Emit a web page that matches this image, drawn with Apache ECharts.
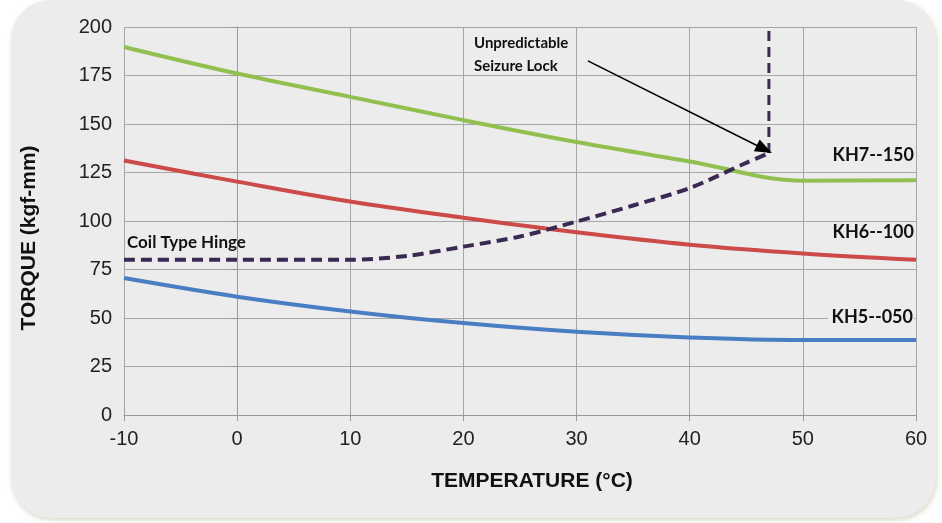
<!DOCTYPE html>
<html>
<head>
<meta charset="utf-8">
<script src="https://cdn.jsdelivr.net/npm/echarts@6/dist/echarts.min.js"></script>
<style>
html,body{margin:0;padding:0;background:#fff;}
#chart{width:942px;height:523px;}
</style>
</head>
<body>
<div id="chart"></div>
<script>
// ---- data ----
const temps = [-10, 0, 10, 20, 30, 40, 50, 60];
const kh7 = [189.7, 176, 164, 152, 140.7, 130.7, 120.8, 121];
const kh6 = [131.2, 120.3, 110, 101.7, 94.2, 87.8, 83.3, 80];
const kh5 = [70.6, 61, 53.4, 47.4, 42.9, 40, 38.7, 38.7];
const coilT = [-10, 0, 10, 15, 20, 25, 30, 35, 40, 45, 47];
const coilV = [80, 80, 80, 82, 86.8, 92, 99.7, 108, 117, 130, 135];
const lockT = [47, 47];
const lockV = [135, 200];
const arrowFrom = [31, 182.5];
const arrowTo = [46.6, 137];
const xTicks = { min: -10, max: 60, interval: 10 };
const yTicks = { min: 0, max: 200, interval: 25 };

const pair = (xs, ys) => xs.map((x, i) => [x, ys[i]]);

const chart = echarts.init(document.getElementById('chart'));
const tickFont = { fontFamily: 'Liberation Sans', fontSize: 20, color: '#222' };
const noteFont = 'Lato';

chart.setOption({
  backgroundColor: '#ffffff',
  animation: false,
  grid: { left: 124, right: 26, top: 27, bottom: 108, containLabel: false },
  xAxis: {
    type: 'value', min: xTicks.min, max: xTicks.max, interval: xTicks.interval,
    axisLine: { show: true, onZero: false, lineStyle: { color: '#999', width: 1 } },
    axisTick: { show: true, length: 6, lineStyle: { color: '#999' } },
    splitLine: { show: true, lineStyle: { color: '#a6a6a6', width: 1 } },
    axisLabel: Object.assign({ margin: 14 }, tickFont)
  },
  yAxis: {
    type: 'value', min: yTicks.min, max: yTicks.max, interval: yTicks.interval,
    axisLine: { show: true, lineStyle: { color: '#999', width: 1 } },
    axisTick: { show: true, length: 7, lineStyle: { color: '#999' } },
    splitLine: { show: true, lineStyle: { color: '#a6a6a6', width: 1 } },
    axisLabel: Object.assign({ margin: 12 }, tickFont)
  },
  graphic: [
    { type: 'rect', z: -10, silent: true,
      shape: { x: 11, y: 0, width: 925, height: 518, r: 40 },
      style: { fill: '#ececec', shadowBlur: 5, shadowOffsetY: 2, shadowOffsetX: 1, shadowColor: 'rgba(150,140,100,0.35)' } },
    { type: 'text', x: 29, y: 238, rotation: Math.PI / 2, z: 10,
      style: { text: 'TORQUE (kgf-mm)', font: 'bold 21px "Liberation Sans"', fill: '#111', align: 'center', verticalAlign: 'middle' } },
    { type: 'text', x: 532, y: 481, z: 10,
      style: { text: 'TEMPERATURE (°C)', font: 'bold 21px "Liberation Sans"', fill: '#111', align: 'center', verticalAlign: 'middle' } },
    { type: 'text', x: 127, y: 243, z: 10,
      style: { text: 'Coil Type Hinge', font: 'bold 17px ' + noteFont, fill: '#111', align: 'left', verticalAlign: 'middle' } },
    { type: 'text', x: 474, y: 43, z: 10,
      style: { text: 'Unpredictable', font: 'bold 15px ' + noteFont, fill: '#111', align: 'left', verticalAlign: 'middle' } },
    { type: 'text', x: 474, y: 66, z: 10,
      style: { text: 'Seizure Lock', font: 'bold 15px ' + noteFont, fill: '#111', align: 'left', verticalAlign: 'middle' } },
    { type: 'text', x: 914, y: 155, z: 10,
      style: { text: 'KH7--150', font: 'bold 18px ' + noteFont, fill: '#111', align: 'right', verticalAlign: 'middle' } },
    { type: 'text', x: 914, y: 232, z: 10,
      style: { text: 'KH6--100', font: 'bold 18px ' + noteFont, fill: '#111', align: 'right', verticalAlign: 'middle' } },
    { type: 'text', x: 914, y: 317, z: 10,
      style: { text: 'KH5--050', font: 'bold 18px ' + noteFont, fill: '#111', align: 'right', verticalAlign: 'middle',
               backgroundColor: '#ececec', padding: [2, 1, 2, 4] } }
  ],
  series: [
    { name: 'KH7--150', type: 'line', data: pair(temps, kh7), showSymbol: false, smooth: 0.35,
      lineStyle: { color: '#92c050', width: 4 }, z: 3 },
    { name: 'KH6--100', type: 'line', data: pair(temps, kh6), showSymbol: false, smooth: 0.35,
      lineStyle: { color: '#cc4a48', width: 4 }, z: 3 },
    { name: 'KH5--050', type: 'line', data: pair(temps, kh5), showSymbol: false, smooth: 0.35,
      lineStyle: { color: '#4a7ec4', width: 4 }, z: 3 },
    { name: 'Coil Type Hinge', type: 'line', data: pair(coilT, coilV), showSymbol: false, smooth: 0.3,
      lineStyle: { color: '#3a2a52', width: 4, type: [11, 6] }, z: 4,
      markLine: {
        silent: true, symbol: ['none', 'triangle'], symbolSize: [13, 17], z: 6,
        lineStyle: { color: '#000', width: 1.5, type: 'solid' }, label: { show: false },
        data: [[{ coord: arrowFrom }, { coord: arrowTo }]]
      } },
    { name: 'Seizure', type: 'line', data: pair(lockT, lockV), showSymbol: false,
      lineStyle: { color: '#3a2a52', width: 3, type: [10, 6] }, z: 4 }
  ]
});
</script>
</body>
</html>
